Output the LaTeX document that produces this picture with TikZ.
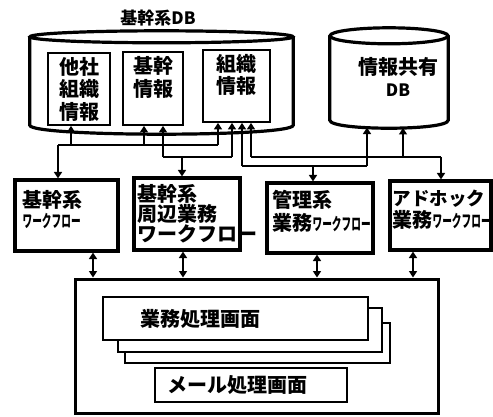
\documentclass[tikz,border=0pt]{standalone}
\usepackage{fontspec}
\newfontfamily\jpfont{Noto Sans CJK JP}
\newfontfamily\jpnarrow{Noto Sans CJK JP}[FakeStretch=0.57]
\usetikzlibrary{arrows.meta,calc}
\newcommand\kana[1]{{\jpnarrow\bfseries\fontsize{17}{20}\selectfont #1}}
\begin{document}
\begin{tikzpicture}[x=1pt,y=-1pt,
  jp/.style={font=\jpfont\bfseries\fontsize{20}{22.5}\selectfont},
  jpw/.style={font=\jpfont\bfseries\fontsize{20}{20}\selectfont},
  ibox/.style={draw, line width=1.8pt, inner sep=0pt, align=center, jp},
  wfbox/.style={draw, line width=3.2pt, inner sep=0pt},
  wflab/.style={anchor=north west, inner sep=0pt, align=left, jpw},
  cyl/.style={line width=3.2pt},
  conn/.style={line width=1.6pt},
  arr/.style={conn, -{Triangle[length=6.5pt,width=8pt]}},
  darr/.style={conn, {Triangle[length=6.5pt,width=8pt]}-{Triangle[length=6.5pt,width=8pt]}},
  scr/.style={draw, fill=white, line width=1.8pt, inner ysep=0pt, align=left, jp},
]
\useasboundingbox (0,0) rectangle (493,417);

% main DB cylinder
\node[inner sep=0pt, minimum width=263pt, minimum height=88pt] (kdb) at (161.5,81) {};
\draw[cyl] (kdb.north west) -- (kdb.south west)
  .. controls ($(kdb.south west)+(0,12)$) and ($(kdb.south east)+(0,12)$) .. (kdb.south east)
  -- (kdb.north east);
\draw[cyl] (kdb.north) ellipse [x radius=131.5, y radius=6];
\node[font=\jpfont\bfseries\fontsize{17}{19}\selectfont] (ttl) at (158,18) {基幹系DB};

% info sharing DB
\node[inner sep=0pt, minimum width=118pt, minimum height=84pt,
  label={[jp, align=center, xshift=9pt, yshift=1pt]center:情報共有\\{\fontsize{17}{20}\selectfont DB}}] (idb) at (389,78) {};
\draw[cyl] (idb.north west) -- (idb.south west)
  .. controls ($(idb.south west)+(0,10.7)$) and ($(idb.south east)+(0,10.7)$) .. (idb.south east)
  -- (idb.north east);
\draw[cyl] (idb.north) ellipse [x radius=59, y radius=8];

% inner boxes
\node[ibox, minimum width=62pt, minimum height=72pt] (tasha) at (79,89) {他社\\組織\\情報};
\node[ibox, minimum width=60pt, minimum height=73pt] (kikan) at (153,88.5) {基幹\\情報\\\phantom{情}};
\node[ibox, minimum width=67pt, minimum height=72pt] (soshiki) at (236.5,86) {組織\\情報\\\phantom{情}};

% workflow boxes
\node[wfbox, minimum width=103pt, minimum height=71pt,
  label={[wflab, xshift=9pt, yshift=-12pt]north west:基幹系\\\kana{ワークフロー}}] (wf1) at (66.5,215.5) {};
\node[wfbox, minimum width=106pt, minimum height=72pt,
  label={[wflab, xshift=5pt, yshift=-8pt]north west:基幹系\\周辺業務\\ワークフロー}] (wf2) at (187,214) {};
\node[wfbox, minimum width=106pt, minimum height=70pt,
  label={[wflab, xshift=7pt, yshift=-9pt]north west:管理系\\[3pt]業務\kana{ワークフロー}}] (wf3) at (320,218) {};
\node[wfbox, minimum width=101pt, minimum height=69pt,
  label={[wflab, xshift=4pt, yshift=-10.5pt]north west:{\fontsize{18.5}{20}\selectfont アドホック}\\[2pt]業務\kana{ワークフロー}}] (wf4) at (440.5,215.5) {};

% bottom area
\node[draw, line width=3pt, minimum width=363pt, minimum height=134pt] (big) at (256.5,346) {};
\node[scr, minimum width=265pt, minimum height=40pt] (s3) at (257.5,343) {};
\node[scr, minimum width=264pt, minimum height=44pt] (s2) at (250,330) {};
\node[scr, minimum height=43pt, text width=191pt, inner xsep=37pt] (s1) at (235.5,318.5) {業務処理画面};
\node[scr, minimum height=34pt, text width=168pt, inner xsep=12pt] (mail) at (251,385) {メール処理画面};

% connector 1
\coordinate (c1l) at (58,145); \coordinate (c1a) at (71,145);
\coordinate (c1b) at (144,145); \coordinate (c1r) at (218,145);
\draw[conn] (c1l) -- (c1r);
\draw[arr] (c1l) -- (c1l |- wf1.north);
\draw[arr] (c1a) -- (c1a |- tasha.south);
\draw[arr] (c1b) -- (c1b |- kikan.south);
\draw[arr] (c1r) -- (c1r |- soshiki.south);

% connector 2
\coordinate (c2l) at (163,157); \coordinate (c2m) at (182,157); \coordinate (c2r) at (232,157);
\draw[conn] (c2l) -- (c2r);
\draw[arr] (c2m) -- (c2m |- wf2.north);
\draw[arr] (c2l) -- (c2l |- kikan.south);
\draw[arr] (c2r) -- (c2r |- soshiki.south);

% connector 3
\coordinate (c3l) at (242,166); \coordinate (c3m) at (313,166); \coordinate (c3r) at (367,166);
\draw[conn] (c3l) -- (c3r);
\draw[arr] (c3m) -- (c3m |- wf3.north);
\draw[arr] (c3l) -- (c3l |- soshiki.south);
\draw[arr] (c3r) -- ($(c3r |- idb.south)+(0,7.4)$);

% connector 4
\coordinate (c4l) at (251,157); \coordinate (c4m) at (403,157); \coordinate (c4r) at (441,157);
\draw[conn] (c4l) -- (c4r);
\draw[arr] (c4r) -- (c4r |- wf4.north);
\draw[arr] (c4l) -- (c4l |- soshiki.south);
\draw[arr] (c4m) -- ($(c4m |- idb.south)+(0,7.8)$);

% lower connectors
\coordinate (d1) at (93,265); \coordinate (d2) at (183,265);
\coordinate (d3) at (317,265); \coordinate (d4) at (413,265);
\draw[darr] (d1 |- wf1.south) -- (d1 |- big.north);
\draw[darr] (d2 |- wf2.south) -- (d2 |- big.north);
\draw[darr] (d3 |- wf3.south) -- (d3 |- big.north);
\draw[darr] (d4 |- wf4.south) -- (d4 |- big.north);
\end{tikzpicture}
\end{document}
